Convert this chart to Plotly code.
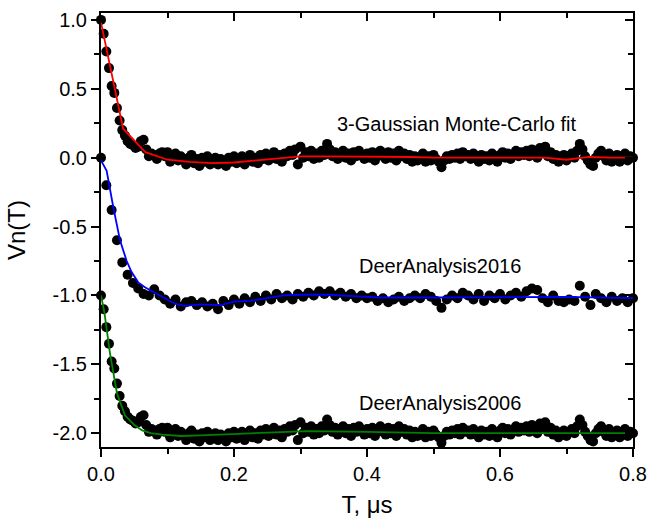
import numpy as np
import plotly.graph_objects as go

# ---------------- data (normalized traces; display offsets below) ----------------
dt_exp = 0.004          # time step of the experimental trace (us)
v_exp = [
    1.00, 0.90, 0.77, 0.65, 0.52, 0.47, 0.36, 0.27, 0.20, 0.16,
    0.12, 0.10, 0.09, 0.07, 0.08, 0.12, 0.13, 0.06, 0.01, 0.03,
    0.02, -0.01, 0.03, 0.04, 0.01, 0.04, -0.03, 0.00, 0.03, -0.02,
    0.01, -0.01, -0.05, 0.00, 0.02, -0.04, -0.01, -0.06, 0.00, -0.03,
    0.01, -0.05, -0.02, 0.00, -0.05, -0.01, -0.03, -0.06, 0.00, -0.03,
    0.01, -0.04, -0.02, 0.01, -0.05, -0.01, 0.02, -0.03, 0.00, -0.04,
    0.02, -0.01, 0.03, -0.02, 0.01, 0.04, -0.01, 0.02, -0.03, 0.03,
    0.01, 0.05, 0.02, 0.06, -0.05, 0.08, 0.00, 0.04, 0.01, 0.05,
    -0.01, 0.03, 0.00, 0.05, 0.02, 0.10, 0.06, 0.01, 0.04, -0.01,
    0.03, 0.05, 0.00, 0.03, -0.02, 0.04, 0.01, 0.05, 0.02, -0.01,
    0.03, 0.00, 0.04, -0.02, 0.02, 0.05, 0.01, -0.01, 0.04, 0.00,
    0.03, -0.02, 0.05, 0.01, 0.03, -0.01, 0.02, -0.03, 0.01, -0.02,
    0.00, 0.03, -0.03, 0.01, -0.02, 0.02, -0.01, -0.03, -0.07, -0.02,
    0.01, -0.01, 0.02, 0.00, 0.03, -0.01, 0.04, 0.01, 0.02, -0.01,
    0.03, 0.00, -0.03, 0.02, -0.01, 0.01, -0.02, 0.03, 0.00, -0.03,
    0.02, 0.04, 0.00, 0.03, -0.01, 0.02, 0.05, 0.01, 0.04, 0.02,
    0.05, 0.01, 0.06, 0.03, 0.00, 0.07, 0.04, 0.08, 0.01, 0.04,
    -0.01, 0.02, -0.03, -0.01, 0.02, -0.02, 0.01, 0.03, 0.00, 0.05,
    0.10, 0.06, 0.01, -0.02, -0.05, -0.06, 0.00, 0.03, 0.05, 0.01,
    -0.02, 0.03, -0.03, 0.00, 0.02, -0.03, 0.01, 0.03, -0.02, 0.01,
    0.00,
]

dt_2016 = 0.008         # time step of the DeerAnalysis2016 trace (us)
v_2016 = [
    1.00, 0.80, 0.62, 0.40, 0.24, 0.15, 0.09, 0.05, 0.01, 0.00,
    0.045, 0.00, -0.03, -0.06, -0.03, -0.08, -0.05, -0.04, -0.07, -0.05,
    -0.08, -0.06, -0.10, -0.04, -0.07, -0.03, -0.06, -0.02, -0.05, -0.01,
    -0.04, 0.00, -0.03, 0.01, -0.02, 0.00, -0.03, 0.01, -0.01, 0.02,
    0.00, 0.03, 0.01, 0.03, 0.00, 0.02, -0.01, 0.01, -0.02, 0.00,
    -0.02, -0.01, -0.04, -0.02, -0.05, -0.03, -0.01, -0.04, -0.02, 0.00,
    -0.02, 0.01, -0.01, -0.04, -0.09, -0.03, 0.00, -0.02, 0.02, 0.00,
    -0.03, 0.01, -0.04, 0.00, -0.02, 0.01, -0.03, 0.00, 0.02, -0.01,
    0.03, 0.05, 0.04, -0.02, -0.05, 0.00, -0.04, -0.05, -0.03, -0.04,
    0.07, -0.01, -0.07, 0.01, -0.02, -0.05, -0.01, -0.04, -0.02, -0.05,
    -0.02,
]

# fits (normalized)
t_gauss = [0.0, 0.0333, 0.0667, 0.1, 0.1333, 0.1667, 0.2, 0.2333, 0.2667, 0.3,
           0.3333, 0.3667, 0.4, 0.4333, 0.4667, 0.5, 0.5333, 0.5667, 0.6, 0.6333,
           0.6667, 0.7, 0.7333, 0.7667, 0.8]
f_gauss = [0.98, 0.21, 0.04, -0.015, -0.03, -0.04, -0.035, -0.02, 0.0, 0.01,
           0.01, 0.01, 0.005, 0.005, 0.005, 0.0, 0.0, 0.0, 0.005, 0.005,
           0.0, -0.015, 0.005, 0.0, 0.0]

t_fit2016 = [0.0, 0.0085, 0.0185, 0.0286, 0.0386, 0.046, 0.056, 0.066, 0.081, 0.096,
             0.111, 0.126, 0.15, 0.18, 0.2, 0.224, 0.25, 0.274, 0.3, 0.34,
             0.38, 0.42, 0.5, 0.56, 0.63, 0.7, 0.8]
f_fit2016 = [0.98, 0.905, 0.64, 0.40, 0.25, 0.17, 0.095, 0.06, 0.02, -0.02,
             -0.06, -0.075, -0.065, -0.07, -0.045, -0.04, -0.02, 0.0, 0.005, 0.005,
             -0.005, -0.015, -0.015, -0.015, -0.01, -0.01, -0.02]

t_fit2006 = [0.0, 0.005, 0.0135, 0.024, 0.036, 0.05, 0.062, 0.075, 0.092, 0.12,
             0.15, 0.22, 0.31, 0.4, 0.5, 0.6, 0.7, 0.8]
f_fit2006 = [1.0, 0.88, 0.58, 0.29, 0.13, 0.06, 0.02, 0.0, -0.01, -0.02,
             -0.015, 0.0, 0.015, 0.01, 0.0, 0.0, 0.0, 0.0]

labels = ["3-Gaussian Monte-Carlo fit", "DeerAnalysis2016", "DeerAnalysis2006"]
offsets = [0.0, -1.0, -2.0]
label_pos = [(0.535, 0.245), (0.51, -0.785), (0.51, -1.78)]
fit_colors = ["#ff0000", "#0000ff", "#008000"]

x_ticks = [0.0, 0.2, 0.4, 0.6, 0.8]
x_ticktext = ["0.0", "0.2", "0.4", "0.6", "0.8"]
y_ticks = [-2.0, -1.5, -1.0, -0.5, 0.0, 0.5, 1.0]
y_ticktext = ["-2.0", "-1.5", "-1.0", "-0.5", "0.0", "0.5", "1.0"]
y_minor = [-1.75, -1.25, -0.75, -0.25, 0.25, 0.75]

# ---------------- figure ----------------
t_exp = np.arange(len(v_exp)) * dt_exp
t_2016 = np.arange(len(v_2016)) * dt_2016

series = [
    (t_exp, v_exp, t_gauss, f_gauss),
    (t_2016, v_2016, t_fit2016, f_fit2016),
    (t_exp, v_exp, t_fit2006, f_fit2006),
]

FONT = "Liberation Sans, Arial, sans-serif"
fig = go.Figure()

for (tt, vv, tf, ff), off in zip(series, offsets):
    fig.add_trace(go.Scatter(
        x=tt, y=np.array(vv) + off, mode="markers",
        marker=dict(color="black", size=10, line=dict(width=0)),
        cliponaxis=False, showlegend=False, hoverinfo="skip"))

for (tt, vv, tf, ff), off, col in zip(series, offsets, fit_colors):
    fig.add_trace(go.Scatter(
        x=tf, y=np.array(ff) + off, mode="lines",
        line=dict(color=col, width=1.8),
        cliponaxis=False, showlegend=False, hoverinfo="skip"))

# overlay axes for inward ticks on top and right
fig.add_trace(go.Scatter(x=[None], y=[None], xaxis="x2", yaxis="y2",
                         showlegend=False, hoverinfo="skip"))

for lab, (lx, ly) in zip(labels, label_pos):
    fig.add_annotation(x=lx, y=ly, text=lab, showarrow=False,
                       font=dict(family=FONT, size=20, color="black"),
                       xanchor="center", yanchor="middle")

xr = [0, 0.8]
yr = [-2.1, 1.05]
common = dict(showline=True, linecolor="black", linewidth=2, showgrid=False,
              zeroline=False, tickcolor="black", tickwidth=1.5, automargin=False)

fig.update_layout(
    template="none",
    width=650, height=519,
    margin=dict(l=101, r=17, t=13, b=72),
    paper_bgcolor="white", plot_bgcolor="white",
    font=dict(family=FONT, size=20, color="black"),
    xaxis=dict(range=xr, tickvals=x_ticks, ticktext=x_ticktext, ticks="outside",
               ticklen=8, minor=dict(dtick=0.1, ticks="outside", ticklen=5,
                                     tickcolor="black", tickwidth=1.5),
               title=dict(text="T, μs", standoff=12), **common),
    yaxis=dict(range=yr, tickvals=y_ticks, ticktext=y_ticktext, ticks="outside",
               ticklen=8, minor=dict(tickvals=y_minor, ticks="outside", ticklen=5,
                                     tickcolor="black", tickwidth=1.5),
               title=dict(text="Vn(T)", standoff=20), **common),
    xaxis2=dict(range=xr, overlaying="x", side="top", tickvals=x_ticks,
                ticks="inside", ticklen=8, showticklabels=False,
                minor=dict(dtick=0.1, ticks="inside", ticklen=5,
                           tickcolor="black", tickwidth=1.5), **common),
    yaxis2=dict(range=yr, overlaying="y", side="right", tickvals=y_ticks,
                ticks="inside", ticklen=8, showticklabels=False,
                minor=dict(tickvals=y_minor, ticks="inside", ticklen=5,
                           tickcolor="black", tickwidth=1.5), **common),
)

fig.write_html("out.html")
